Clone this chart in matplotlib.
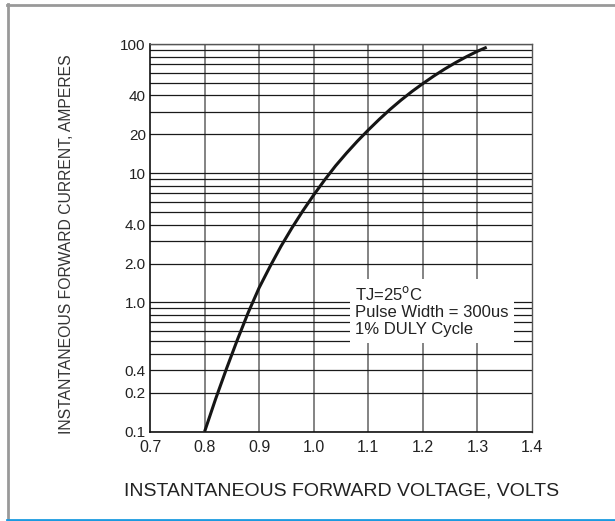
import matplotlib
matplotlib.use("Agg")
import matplotlib.pyplot as plt
from matplotlib.lines import Line2D

# Data
voltage = [0.80, 0.82, 0.84, 0.86, 0.88, 0.90, 0.92, 0.94, 0.96, 0.98,
           1.00, 1.02, 1.04, 1.06, 1.08, 1.10, 1.12, 1.14, 1.16, 1.18,
           1.20, 1.22, 1.24, 1.26, 1.28, 1.30, 1.317]
current = [0.100, 0.178, 0.306, 0.513, 0.836, 1.30, 1.90, 2.72, 3.77, 5.11,
           6.79, 8.87, 11.4, 14.3, 17.7, 21.6, 26.1, 31.2, 36.8, 42.9,
           49.4, 56.5, 64.0, 71.8, 79.8, 87.9, 94.4]

x_ticks = [0.7, 0.8, 0.9, 1.0, 1.1, 1.2, 1.3, 1.4]
x_tick_labels = ["0.7", "0.8", "0.9", "1.0", "1.1", "1.2", "1.3", "1.4"]
y_tick_pos = [0.1, 0.2, 0.3, 1.0, 2.0, 4.0, 10, 20, 40, 100]
y_tick_labels = ["0.1", "0.2", "0.4", "1.0", "2.0", "4.0", "10", "20", "40", "100"]
y_grid = [m * 10.0 ** e for e in (-1, 0, 1) for m in range(1, 10)] + [100]

note = "TJ=25$^{\\rm o}$C\nPulse Width = 300us\n1% DULY Cycle"

plt.rcParams['font.family'] = ['Liberation Sans', 'DejaVu Sans']

fig = plt.figure(figsize=(6.15, 5.21), dpi=100)
ax = fig.add_axes([150/615, 1-431.7/521, (532-150)/615, (431.7-44)/521])
ax.set_yscale('log')
ax.set_xlim(0.7, 1.4)
ax.set_ylim(0.1, 100)

for v in x_ticks[1:-1]:
    ax.axvline(v, color='#7a7a7a', lw=1.3, zorder=1)
for g in y_grid:
    ax.axhline(g, color='#1a1a1a', lw=0.9, zorder=1)

ax.plot(voltage, current, color='#151515', lw=2.2, zorder=3,
        solid_capstyle='butt', solid_joinstyle='round')

ax.set_xticks(x_ticks)
ax.set_xticklabels(x_tick_labels)
ax.set_yticks(y_tick_pos)
ax.set_yticklabels(y_tick_labels)
ax.yaxis.set_minor_locator(matplotlib.ticker.NullLocator())
ax.tick_params(axis='both', length=0, colors='#222222')
ax.tick_params(axis='x', labelsize=11.5, pad=6)
ax.tick_params(axis='y', labelsize=11, pad=3)

for s in ['left', 'bottom']:
    ax.spines[s].set_color('#111111')
    ax.spines[s].set_linewidth(1.2)
for s in ['top', 'right']:
    ax.spines[s].set_color('#555555')
    ax.spines[s].set_linewidth(1.0)

ax.text(1.0757, 0.86, note, fontsize=12, color='#222222', va='center', ha='left',
        linespacing=1.2, zorder=4,
        bbox=dict(facecolor='white', edgecolor='none', pad=4))

fig.text(342/615, 1-491/521, "INSTANTANEOUS FORWARD VOLTAGE, VOLTS", fontsize=14,
         color='#222222', ha='center', va='center')
fig.text(67/615, 1-244/521, "INSTANTANEOUS FORWARD CURRENT, AMPERES", fontsize=11.3,
         color='#333333', ha='center', va='center', rotation=90)

# outer frame
fig.add_artist(Line2D([7/615, 1], [1-4.5/521, 1-4.5/521], transform=fig.transFigure, color='#999999', lw=2))
fig.add_artist(Line2D([7.5/615, 7.5/615], [1-4/521, 1-519/521], transform=fig.transFigure, color='#999999', lw=2))
fig.add_artist(Line2D([7/615, 1], [1-519.5/521, 1-519.5/521], transform=fig.transFigure, color='#1a9ae0', lw=2))

fig.savefig("out.png", dpi=100)
